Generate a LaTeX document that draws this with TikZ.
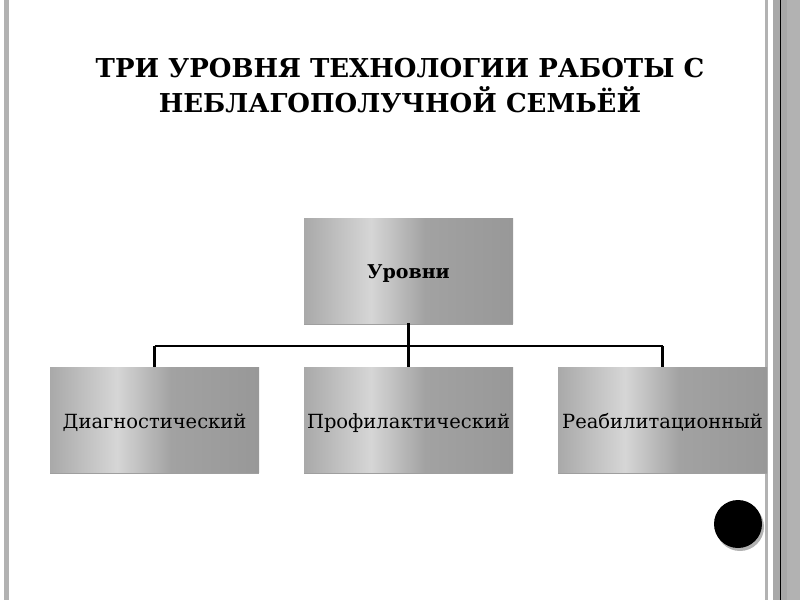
\documentclass[tikz,border=0pt]{standalone}
\usepackage{fontspec}
\setmainfont{DejaVu Serif}
\usetikzlibrary{shadows}
\definecolor{barGray}{HTML}{B2B2B2}
\definecolor{barDark}{HTML}{A8A8A8}
\definecolor{metA}{HTML}{A9A9A9}
\definecolor{metB}{HTML}{D6D6D6}
\definecolor{metC}{HTML}{A2A2A2}
\definecolor{metD}{HTML}{989898}
\pgfdeclarehorizontalshading{metal}{100bp}{color(0bp)=(metA); color(25bp)=(metA); color(41bp)=(metB); color(54bp)=(metC); color(75bp)=(metD); color(100bp)=(metD)}
\begin{document}
\begin{tikzpicture}[x=1pt, y=-1pt,
	level/.style={rectangle, minimum width=209pt, minimum height=105pt, inner sep=0pt, shading=metal,
		general shadow={shadow yshift=-2pt, fill=gray!75}, font=\fontsize{19.5}{22}\selectfont,
		text height=17pt, text depth=0pt},
	link/.style={line width=2.4pt}]
	\useasboundingbox (0,0) rectangle (800,600);
	% frame
	\fill[barGray] (4,0) rectangle (9,600);
	\fill[barGray] (765,0) rectangle (768,600);
	\fill[barDark] (773,0) rectangle (800,600);
	\fill[barGray] (787,0) rectangle (800,600);
	\draw[line width=1.2pt] (780.5,0) -- (780.5,600);
	% title
	\node[font=\fontsize{26}{32}\selectfont\bfseries, anchor=base] (t1) at (400,77) {ТРИ УРОВНЯ ТЕХНОЛОГИИ РАБОТЫ С};
	\node[font=\fontsize{26}{32}\selectfont\bfseries, anchor=base] (t2) at (400,112) {НЕБЛАГОПОЛУЧНОЙ СЕМЬЁЙ};
	% boxes
	\node[level, font=\fontsize{19}{22}\selectfont\bfseries, text height=15pt] (lvl) at (408.5,270.5) {Уровни};
	\foreach \name/\x/\txt in {diag/154.5/Диагностический, prof/408.5/Профилактический, reab/662.5/Реабилитационный}
	{
		\node[level] (\name) at (\x,419.5) {\txt};
	}
	\coordinate (bus) at (0,346);
	\draw[link] (lvl.south) -- (lvl.south |- bus);
	\draw[link] (diag.north |- bus) -- (reab.north |- bus);
	\foreach \name in {diag, prof, reab}
		\draw[link] (\name.north |- bus) -- (\name.north);
	% dot
	\fill[gray!60] (740,527) circle (24);
	\fill[black] (738,524) circle (24);
\end{tikzpicture}
\end{document}
